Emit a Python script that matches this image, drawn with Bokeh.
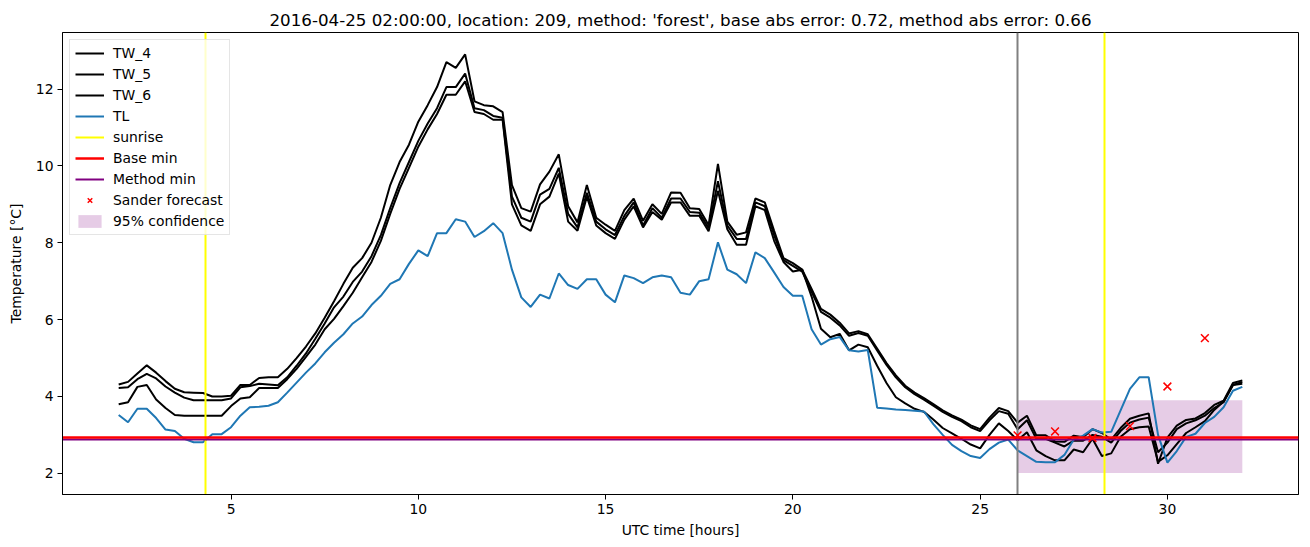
import numpy as np
from bokeh.plotting import figure
from bokeh.models import Range1d, Legend, LegendItem, FixedTicker
from bokeh.embed import file_html
from bokeh.resources import INLINE

# ---------------- data ----------------
hours = np.arange(2.0, 32.001, 0.25)

tw_4 = [
    4.31, 4.38, 4.60, 4.81,
    4.62, 4.40, 4.20, 4.11,
    4.10, 4.09, 4.00, 4.00,
    4.02, 4.30, 4.30, 4.48,
    4.50, 4.50, 4.72, 5.00,
    5.30, 5.64, 6.05, 6.48,
    6.93, 7.35, 7.60, 8.00,
    8.65, 9.50, 10.10, 10.55,
    11.15, 11.58, 12.05, 12.70,
    12.55, 12.90, 11.68, 11.58,
    11.55, 11.40, 9.50, 8.90,
    8.81, 9.52, 9.85, 10.30,
    8.95, 8.53, 9.50, 8.65,
    8.47, 8.31, 8.85, 9.15,
    8.57, 9.00, 8.75, 9.31,
    9.30, 8.90, 8.88, 8.46,
    10.05, 8.55, 8.21, 8.27,
    9.15, 9.05, 8.31, 7.60,
    7.47, 7.30, 6.80, 6.28,
    6.13, 5.92, 5.64, 5.70,
    5.62, 5.25, 4.87, 4.55,
    4.28, 4.10, 3.96, 3.80,
    3.64, 3.51, 3.40, 3.25,
    3.15, 3.45, 3.70, 3.62,
    3.32, 3.50, 2.99, 2.99,
    2.83, 2.82, 2.98, 2.94,
    3.15, 3.05, 2.88, 3.18,
    3.42, 3.50, 3.56, 2.25,
    2.93, 3.24, 3.39, 3.43,
    3.57, 3.78, 3.89, 4.35,
    4.42,
]

tw_5 = [
    4.22, 4.24, 4.45, 4.59,
    4.47, 4.26, 4.10, 3.97,
    3.90, 3.90, 3.90, 3.90,
    3.95, 4.24, 4.27, 4.33,
    4.31, 4.29, 4.50, 4.80,
    5.12, 5.50, 5.90, 6.32,
    6.60, 6.98, 7.25, 7.65,
    8.20, 8.90, 9.55, 10.10,
    10.65, 11.10, 11.50, 12.05,
    12.05, 12.40, 11.50, 11.45,
    11.30, 11.25, 9.20, 8.65,
    8.55, 9.25, 9.40, 9.95,
    8.75, 8.40, 9.30, 8.55,
    8.35, 8.20, 8.70, 9.05,
    8.45, 8.90, 8.65, 9.15,
    9.15, 8.80, 8.78, 8.38,
    9.60, 8.45, 8.10, 8.10,
    9.05, 8.95, 8.20, 7.55,
    7.40, 7.25, 6.72, 6.20,
    6.05, 5.85, 5.58, 5.65,
    5.58, 5.20, 4.82, 4.50,
    4.24, 4.06, 3.92, 3.76,
    3.60, 3.47, 3.36, 3.20,
    3.10, 3.38, 3.62, 3.55,
    3.15, 3.38, 2.90, 2.90,
    2.80, 2.70, 2.85, 2.85,
    3.00, 2.95, 2.80, 3.10,
    3.32, 3.40, 3.45, 2.55,
    2.80, 3.15, 3.30, 3.38,
    3.50, 3.70, 3.85, 4.30,
    4.38,
]

tw_6 = [
    3.80, 3.85, 4.25, 4.30,
    3.92, 3.70, 3.52, 3.50,
    3.50, 3.50, 3.50, 3.50,
    3.75, 3.95, 3.98, 4.22,
    4.22, 4.22, 4.45, 4.72,
    5.03, 5.35, 5.75, 6.02,
    6.35, 6.70, 7.10, 7.50,
    8.05, 8.75, 9.40, 9.95,
    10.50, 10.95, 11.35, 11.85,
    11.85, 12.20, 11.40, 11.35,
    11.20, 11.20, 9.00, 8.45,
    8.31, 9.00, 9.20, 9.80,
    8.55, 8.31, 9.20, 8.45,
    8.25, 8.10, 8.60, 8.95,
    8.40, 8.80, 8.60, 9.05,
    9.05, 8.70, 8.70, 8.30,
    9.35, 8.35, 7.95, 7.95,
    8.95, 8.85, 8.05, 7.50,
    7.25, 7.30, 6.60, 5.76,
    5.54, 5.63, 5.20, 5.35,
    5.28, 4.80, 4.35, 3.98,
    3.82, 3.68, 3.60, 3.40,
    3.18, 3.04, 2.90, 2.75,
    2.65, 3.00, 3.30, 3.10,
    2.86, 3.07, 2.60, 2.45,
    2.34, 2.34, 2.62, 2.55,
    2.90, 2.45, 2.52, 2.95,
    3.15, 3.20, 3.22, 2.30,
    2.47, 2.76, 3.05, 3.20,
    3.36, 3.65, 3.87, 4.30,
    4.33,
]

tl = [
    3.52, 3.33, 3.68, 3.68,
    3.44, 3.14, 3.10, 2.90,
    2.81, 2.81, 3.02, 3.02,
    3.20, 3.50, 3.72, 3.73,
    3.76, 3.85, 4.10, 4.36,
    4.62, 4.86, 5.15, 5.40,
    5.62, 5.90, 6.08, 6.38,
    6.62, 6.93, 7.05, 7.45,
    7.80, 7.65, 8.25, 8.25,
    8.61, 8.55, 8.15, 8.30,
    8.51, 8.25, 7.30, 6.58,
    6.33, 6.65, 6.55, 7.20,
    6.90, 6.80, 7.05, 7.05,
    6.65, 6.45, 7.15, 7.08,
    6.95, 7.10, 7.15, 7.10,
    6.70, 6.65, 7.00, 7.05,
    8.01, 7.30, 7.18, 6.95,
    7.75, 7.60, 7.23, 6.85,
    6.62, 6.62, 5.75, 5.35,
    5.49, 5.55, 5.20, 5.17,
    5.21, 3.71, 3.69, 3.66,
    3.65, 3.63, 3.61, 3.28,
    3.00, 2.74, 2.58, 2.45,
    2.40, 2.63, 2.80, 2.88,
    2.60, 2.45, 2.30, 2.29,
    2.29, 2.48, 2.88, 2.98,
    3.15, 3.06, 3.08, 3.64,
    4.20, 4.50, 4.50, 3.00,
    2.28, 2.58, 2.95, 3.03,
    3.31, 3.47, 3.72, 4.15,
    4.25,
]

sunrise_hours = [4.33, 28.33]
forecast_start = [26.0]
base_min = [2.92]
method_min = [2.87]

sander_hours = [26, 27, 28, 29, 30, 31]
sander_values = [2.99, 3.09, 2.92, 3.23, 4.26, 5.52]

conf_hours = [26.0, 32.0]
conf_low = [2.01, 2.01]
conf_high = [3.90, 3.90]

title_text = ("2016-04-25 02:00:00, location: 209, method: 'forest', "
              "base abs error: 0.72, method abs error: 0.66")

FONT = "DejaVu Sans"

# ---------------- figure ----------------
p = figure(
    frame_width=1236, frame_height=462,
    min_border_left=62, min_border_right=12,
    min_border_top=32, min_border_bottom=53,
    x_range=Range1d(0.5, 33.5), y_range=Range1d(1.45, 13.47),
    output_backend="svg", toolbar_location=None,
    title=title_text,
)
p.background_fill_color = "white"
p.border_fill_color = "white"
p.outline_line_color = "black"
p.outline_line_width = 1
p.xgrid.visible = False
p.ygrid.visible = False

p.title.align = "center"
p.title.text_font = FONT
p.title.text_font_size = "16.7px"
p.title.text_font_style = "normal"
p.title.text_color = "black"
p.title.offset = 0
p.title.standoff = 6

for ax in (p.xaxis[0], p.yaxis[0]):
    ax.major_label_text_font = FONT
    ax.major_label_text_font_size = "13.9px"
    ax.major_label_text_color = "black"
    ax.axis_label_text_font = FONT
    ax.axis_label_text_font_size = "13.9px"
    ax.axis_label_text_font_style = "normal"
    ax.axis_label_text_color = "black"
    ax.major_tick_out = 5
    ax.major_tick_in = 0
    ax.minor_tick_out = 0
    ax.minor_tick_in = 0
    ax.axis_line_color = "black"
    ax.major_tick_line_color = "black"
    ax.major_label_standoff = 4

p.xaxis.ticker = FixedTicker(ticks=[5, 10, 15, 20, 25, 30])
p.yaxis.ticker = FixedTicker(ticks=[2, 4, 6, 8, 10, 12])
p.xaxis.axis_label = "UTC time [hours]"
p.yaxis.axis_label = "Temperature [\u00b0C]"
p.xaxis.axis_label_standoff = 5
p.yaxis.axis_label_standoff = 9

# confidence band
r_conf = p.varea(x=conf_hours, y1=conf_low, y2=conf_high,
                 fill_color="purple", fill_alpha=0.2)

# series
r_tw4 = p.line(hours, tw_4, line_color="black", line_width=2)
r_tw5 = p.line(hours, tw_5, line_color="black", line_width=2)
r_tw6 = p.line(hours, tw_6, line_color="black", line_width=2)
r_tl = p.line(hours, tl, line_color="#1f77b4", line_width=2)

# reference lines
r_sun = p.vspan(x=sunrise_hours, line_color="yellow", line_width=2)
r_fc = p.vspan(x=forecast_start, line_color="grey", line_width=2)
r_meth = p.hspan(y=method_min, line_color="purple", line_width=2)
r_base = p.hspan(y=base_min, line_color="red", line_width=2.5)

r_sander = p.scatter(sander_hours, sander_values, marker="x", size=11,
                     line_color="red", line_width=1.5)

legend = Legend(items=[
    LegendItem(label="TW_4", renderers=[r_tw4]),
    LegendItem(label="TW_5", renderers=[r_tw5]),
    LegendItem(label="TW_6", renderers=[r_tw6]),
    LegendItem(label="TL", renderers=[r_tl]),
    LegendItem(label="sunrise", renderers=[r_sun]),
    LegendItem(label="Base min", renderers=[r_base]),
    LegendItem(label="Method min", renderers=[r_meth]),
    LegendItem(label="Sander forecast", renderers=[r_sander]),
    LegendItem(label="95% confidence", renderers=[r_conf]),
], location="top_left")
legend.margin = 7
legend.padding = 5
legend.spacing = 5
legend.glyph_width = 29
legend.glyph_height = 16
legend.label_height = 16
legend.label_standoff = 9
legend.label_text_font = FONT
legend.label_text_font_size = "13.9px"
legend.label_text_color = "black"
legend.border_line_color = "#cccccc"
legend.border_line_width = 1
legend.background_fill_alpha = 0.8
p.add_layout(legend)

open("out.html", "w").write(file_html(p, INLINE))
